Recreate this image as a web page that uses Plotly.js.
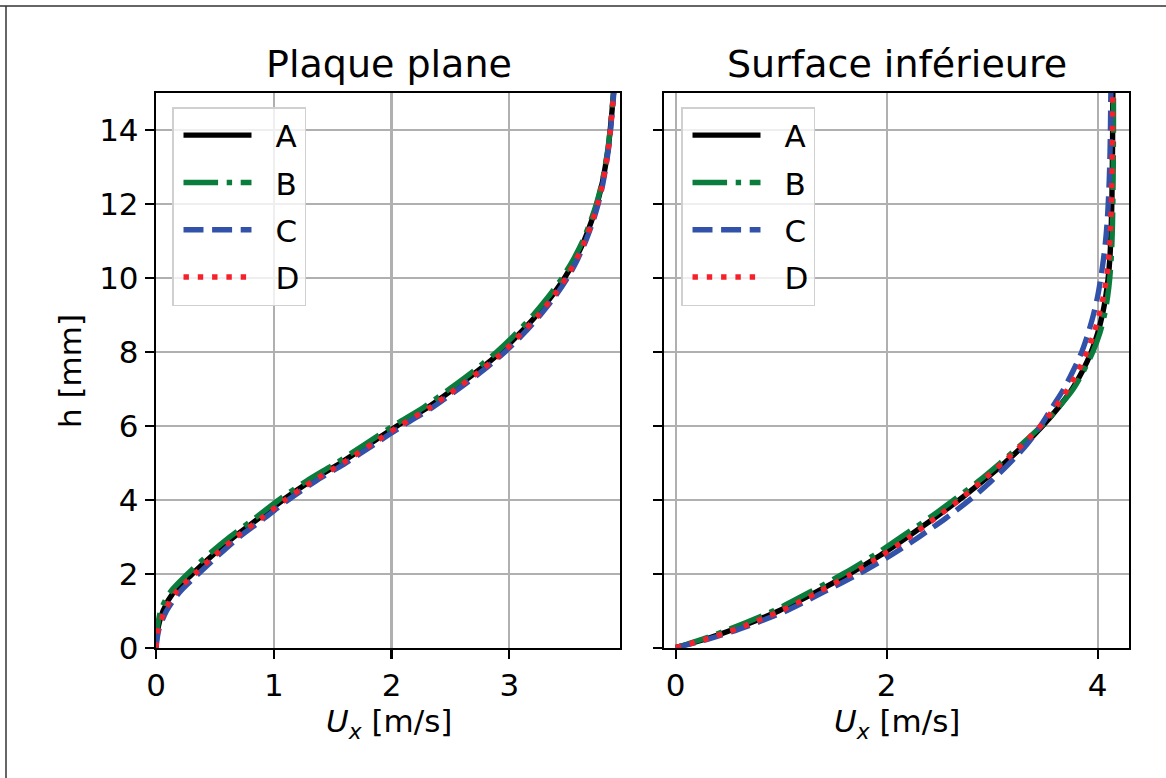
<!DOCTYPE html>
<html>
<head>
<meta charset="utf-8">
<script src="https://cdn.plot.ly/plotly-3.0.1.min.js"></script>
<style>html,body{margin:0;padding:0;background:#fff;}#chart{width:1166px;height:778px;}</style>
</head>
<body>
<div id="chart"></div>
<script>
// ---- data ----
const seriesNames = ["A", "B", "C", "D"];
const panelTitles = ["Plaque plane", "Surface inférieure"];
const xAxisTitle = "<i>U<sub>x</sub></i> [m/s]";
const yAxisTitle = "h [mm]";

// Left panel: "Plaque plane"  (h in mm, Ux in m/s)
const hLeft = [0,0.25,0.5,1,1.5,2,2.5,3,3.5,4,4.5,5,5.5,6,6.5,7,7.5,8,8.5,9,9.5,10,10.5,11,11.5,12,12.5,13,13.5,14,14.5,15];
const uxLeftA = [0,0.005,0.015,0.06,0.15,0.31,0.48,0.665,0.875,1.08,1.31,1.57,1.81,2.05,2.31,2.53,2.74,2.93,3.09,3.235,3.36,3.47,3.56,3.635,3.695,3.745,3.785,3.815,3.84,3.857,3.872,3.885];
const uxLeftB = [0,0.003,0.01,0.04,0.12,0.27,0.44,0.63,0.84,1.045,1.275,1.535,1.775,2.015,2.275,2.495,2.705,2.895,3.06,3.205,3.335,3.45,3.545,3.625,3.687,3.74,3.782,3.813,3.838,3.856,3.871,3.885];
const uxLeftC = [0,0.01,0.025,0.09,0.2,0.36,0.53,0.71,0.92,1.125,1.355,1.615,1.855,2.095,2.35,2.57,2.78,2.965,3.125,3.265,3.39,3.495,3.58,3.65,3.708,3.755,3.792,3.82,3.843,3.86,3.874,3.888];
const uxLeftD = [0,0.008,0.02,0.075,0.17,0.33,0.5,0.685,0.895,1.1,1.33,1.59,1.83,2.07,2.33,2.55,2.76,2.95,3.105,3.25,3.375,3.483,3.57,3.643,3.702,3.75,3.789,3.818,3.842,3.858,3.873,3.886];

// Right panel: "Surface inférieure"
const hRight = [0,0.25,0.5,1,1.5,2,2.5,3,3.5,4,4.5,5,5.5,6,6.5,7,7.5,8,8.5,9,9.5,10,10.5,11,11.5,12,12.5,13,13.5,14,14.5,15];
const uxRightA = [0,0.30,0.55,0.98,1.33,1.65,1.94,2.20,2.45,2.69,2.91,3.12,3.31,3.48,3.63,3.76,3.86,3.94,4.00,4.045,4.077,4.10,4.115,4.124,4.13,4.134,4.137,4.139,4.141,4.142,4.143,4.144];
const uxRightB = [0,0.27,0.51,0.93,1.27,1.59,1.88,2.14,2.40,2.64,2.87,3.08,3.28,3.47,3.63,3.77,3.87,3.955,4.02,4.065,4.095,4.115,4.128,4.136,4.141,4.144,4.146,4.148,4.149,4.15,4.15,4.15];
const uxRightC = [0,0.33,0.60,1.05,1.40,1.74,2.04,2.31,2.56,2.79,2.99,3.17,3.33,3.46,3.57,3.68,3.77,3.85,3.91,3.96,4.00,4.03,4.055,4.075,4.09,4.10,4.108,4.114,4.118,4.121,4.123,4.125];
const uxRightD = [0,0.31,0.57,1.00,1.35,1.67,1.96,2.22,2.46,2.69,2.90,3.10,3.29,3.46,3.60,3.72,3.82,3.90,3.965,4.015,4.055,4.085,4.104,4.116,4.124,4.13,4.134,4.137,4.139,4.14,4.141,4.142];

const xTicksLeft = [0, 1, 2, 3];
const xTicksRight = [0, 2, 4];
const yTicks = [0, 2, 4, 6, 8, 10, 12, 14];

// ---- styles ----
const FONT = "DejaVu Sans, Verdana, sans-serif";
const FS = 31;
const LW = 5.4;
const styles = {
  A: {color: "#000000", dash: "solid"},
  B: {color: "#0a7d3c", dash: "34.6px,8.6px,5.4px,8.6px"},
  C: {color: "#3152a8", dash: "20px,8.6px"},
  D: {color: "#f5202a", dash: "5.4px,8.9px"}
};

const leftX = {A: uxLeftA, B: uxLeftB, C: uxLeftC, D: uxLeftD};
const rightX = {A: uxRightA, B: uxRightB, C: uxRightC, D: uxRightD};

const traces = [];
seriesNames.forEach(function (n) {
  traces.push({
    x: leftX[n], y: hLeft, type: "scatter", mode: "lines", name: n,
    xaxis: "x", yaxis: "y", legend: "legend", legendgroup: "L" + n,
    line: {color: styles[n].color, dash: styles[n].dash, width: LW, shape: "spline", smoothing: 0.8},
    hoverinfo: "skip"
  });
});
seriesNames.forEach(function (n) {
  traces.push({
    x: rightX[n], y: hRight, type: "scatter", mode: "lines", name: n,
    xaxis: "x2", yaxis: "y2", legend: "legend2", legendgroup: "R" + n,
    line: {color: styles[n].color, dash: styles[n].dash, width: LW, shape: "spline", smoothing: 0.8},
    hoverinfo: "skip"
  });
});

const W = 1166, H = 778;
const yDom = [1 - 647.7 / H, 1 - 92.7 / H];
const axisCommon = {
  showline: true, mirror: true, linecolor: "#000", linewidth: 2.2,
  showgrid: true, gridcolor: "#b0b0b0", gridwidth: 2.2,
  zeroline: false, ticks: "outside", ticklen: 9, tickwidth: 2.2, tickcolor: "#000",
  tickfont: {family: FONT, size: FS, color: "#000"}, automargin: false, fixedrange: true
};

const legendCommon = {
  bgcolor: "rgba(255,255,255,0.8)", bordercolor: "#d0d0d0", borderwidth: 1.5,
  font: {family: FONT, size: FS, color: "#000"},
  xanchor: "left", yanchor: "top", tracegroupgap: 4, itemwidth: 92,
  orientation: "v", itemclick: false, itemdoubleclick: false
};

const txt = function (t, x, y, size, angle) {
  return {text: t, xref: "paper", yref: "paper", x: x, y: y, xanchor: "center", yanchor: "middle",
          showarrow: false, textangle: angle || 0, font: {family: FONT, size: size, color: "#000"}};
};

const layout = {
  width: W, height: H,
  margin: {l: 0, r: 0, t: 0, b: 0},
  paper_bgcolor: "#fff", plot_bgcolor: "#fff",
  font: {family: FONT, color: "#000"},
  showlegend: true,
  xaxis: Object.assign({}, axisCommon, {
    domain: [156 / W, 620 / W], range: [0, 3.94], tickvals: xTicksLeft, ticktext: xTicksLeft.map(String), anchor: "y"
  }),
  yaxis: Object.assign({}, axisCommon, {
    domain: yDom, range: [0, 15], tickvals: yTicks, ticktext: yTicks.map(String), anchor: "x"
  }),
  xaxis2: Object.assign({}, axisCommon, {
    domain: [664.3 / W, 1129 / W], range: [-0.108, 4.297], tickvals: xTicksRight, ticktext: xTicksRight.map(String), anchor: "y2"
  }),
  yaxis2: Object.assign({}, axisCommon, {
    domain: yDom, range: [0, 15], tickvals: yTicks, showticklabels: false, anchor: "x2"
  }),
  legend: Object.assign({}, legendCommon, {x: 172 / W, y: 1 - 107 / H}),
  legend2: Object.assign({}, legendCommon, {x: 681 / W, y: 1 - 107 / H}),
  annotations: [
    txt(panelTitles[0], 389 / W, 1 - 64 / H, 38),
    txt(panelTitles[1], 897 / W, 1 - 64 / H, 38),
    txt(xAxisTitle, 389 / W, 1 - 723 / H, FS),
    txt(xAxisTitle, 897 / W, 1 - 723 / H, FS),
    txt(yAxisTitle, 70 / W, 1 - 371 / H, FS, -90)
  ],
  shapes: [
    {type: "line", xref: "paper", yref: "paper", x0: 0, x1: 1, y0: 1 - 6 / H, y1: 1 - 6 / H, line: {color: "#333", width: 1.5}},
    {type: "line", xref: "paper", yref: "paper", x0: 6 / W, x1: 6 / W, y0: 0, y1: 1 - 6 / H, line: {color: "#333", width: 1.5}}
  ]
};

Plotly.newPlot("chart", traces, layout, {staticPlot: true, displayModeBar: false}).then(function (gd) {
  // matplotlib-style legend handles: a shorter sample line with a gap before the label
  gd.querySelectorAll(".legendlines path").forEach(function (p) { p.setAttribute("d", "M10,0h68"); });
});
</script>
</body>
</html>
